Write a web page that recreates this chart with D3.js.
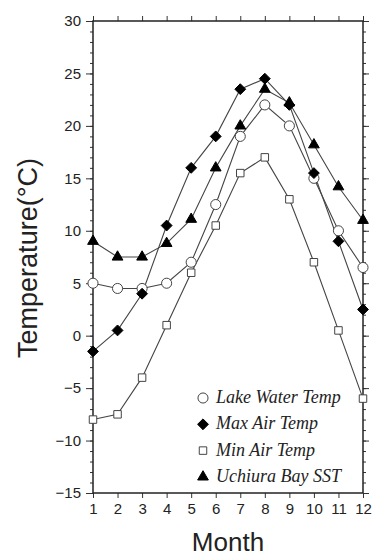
<!DOCTYPE html>
<html>
<head>
<meta charset="utf-8">
<script src="https://cdn.jsdelivr.net/npm/d3@7"></script>
<style>
  body { margin: 0; background: #fff; }
  svg { display: block; }
  .tick text { font-family: "Liberation Sans", Arial, sans-serif; font-size: 15px; fill: #222; }
</style>
</head>
<body>
<div id="chart"></div>
<script>
// months and series
const months = [1, 2, 3, 4, 5, 6, 7, 8, 9, 10, 11, 12];
const lakeWater = [5, 4.5, 4.5, 5, 7, 12.5, 19, 22, 20, 15, 10, 6.5];
const maxAir = [-1.5, 0.5, 4, 10.5, 16, 19, 23.5, 24.5, 22, 15.5, 9, 2.5];
const minAir = [-8, -7.5, -4, 1, 6, 10.5, 15.5, 17, 13, 7, 0.5, -6];
const uchiuraSST = [9, 7.5, 7.5, 8.8, 11.1, 16, 20, 23.5, 22.2, 18.2, 14.2, 11];
const yTicks = [-15, -10, -5, 0, 5, 10, 15, 20, 25, 30];

const series = [
    { name: "Lake Water Temp", values: lakeWater, shape: "circle" },
    { name: "Max Air Temp", values: maxAir, shape: "diamond" },
    { name: "Min Air Temp", values: minAir, shape: "square" },
    { name: "Uchiura Bay SST", values: uchiuraSST, shape: "triangle" }
];

const W = 373, H = 556;
const margin = { top: 21, right: 10, bottom: 63, left: 93 };
const width = W - margin.left - margin.right,
    height = H - margin.top - margin.bottom;

const svg = d3.select("#chart").append("svg")
    .attr("width", W).attr("height", H);
const g = svg.append("g")
    .attr("transform", `translate(${margin.left}, ${margin.top})`);

const x = d3.scaleLinear().domain([1, 12]).range([0, width]);
const y = d3.scaleLinear().domain([-15, 30]).range([height, 0]);
const minorY = d3.range(-15, 31, 1);

// minor ticks (left + right)
g.append("g").call(d3.axisLeft(y).tickValues(minorY).tickSize(3).tickFormat(""))
    .call(a => a.select(".domain").remove());
g.append("g").attr("transform", `translate(${width},0)`)
    .call(d3.axisRight(y).tickValues(minorY).tickSize(3).tickFormat(""))
    .call(a => a.select(".domain").remove());

// major ticks
g.append("g").call(d3.axisLeft(y).tickValues(yTicks).tickSize(7).tickPadding(5)
    .tickFormat(d => d < 0 ? "\u2212" + Math.abs(d) : d))
    .call(a => a.select(".domain").remove());
g.append("g").attr("transform", `translate(${width},0)`)
    .call(d3.axisRight(y).tickValues(yTicks).tickSize(6).tickFormat(""))
    .call(a => a.select(".domain").remove());
g.append("g").attr("transform", `translate(0,${height})`)
    .call(d3.axisBottom(x).tickValues(months).tickSize(5).tickPadding(5))
    .call(a => a.select(".domain").remove());
g.append("g")
    .call(d3.axisTop(x).tickValues(months).tickSize(5).tickFormat(""))
    .call(a => a.select(".domain").remove());

g.selectAll(".tick line").attr("stroke", "#333");

// frame
g.append("rect")
    .attr("width", width).attr("height", height)
    .attr("fill", "none").attr("stroke", "#222").attr("stroke-width", 1.5);

const line = d3.line()
    .x((d, i) => x(months[i]))
    .y(d => y(d));

const symbolFor = {
    circle: d3.symbol().type(d3.symbolCircle).size(80),
    diamond: d3.symbol().type(d3.symbolDiamond2).size(75),
    square: d3.symbol().type(d3.symbolSquare).size(56),
    triangle: d3.symbol().type(d3.symbolTriangle).size(50)
};
const filled = { circle: false, diamond: true, square: false, triangle: true };

// lines
series.forEach(s => {
    g.append("path")
        .datum(s.values)
        .attr("d", line)
        .attr("fill", "none")
        .attr("stroke", "#444")
        .attr("stroke-width", 1.1);
});

// markers
series.forEach(s => {
    g.selectAll(null)
        .data(s.values)
        .enter()
        .append("path")
        .attr("d", symbolFor[s.shape])
        .attr("transform", (d, i) => `translate(${x(months[i])},${y(d)})`)
        .attr("fill", filled[s.shape] ? "#000" : "#fff")
        .attr("stroke", filled[s.shape] ? "#000" : "#444")
        .attr("stroke-width", 1);
});

// legend
const legend = g.append("g").attr("transform", "translate(110, 377)");
series.forEach((s, i) => {
    const row = legend.append("g").attr("transform", `translate(0, ${i * 26.3})`);
    row.append("path")
        .attr("d", symbolFor[s.shape])
        .attr("fill", filled[s.shape] ? "#000" : "#fff")
        .attr("stroke", filled[s.shape] ? "#000" : "#444")
        .attr("stroke-width", 1);
    row.append("text")
        .attr("x", 13)
        .attr("y", 5)
        .style("font-family", "'Liberation Serif', 'Times New Roman', serif")
        .style("font-style", "italic")
        .style("font-size", "18px")
        .style("fill", "#222")
        .text(s.name);
});

// axis titles
svg.append("text")
    .attr("x", 228).attr("y", 551)
    .attr("text-anchor", "middle")
    .style("font-family", "'Liberation Sans', Arial, sans-serif")
    .style("font-size", "26px")
    .style("fill", "#222")
    .text("Month");

svg.append("text")
    .attr("transform", "translate(37, 258) rotate(-90)")
    .attr("text-anchor", "middle")
    .style("font-family", "'Liberation Sans', Arial, sans-serif")
    .style("font-size", "27px")
    .style("fill", "#222")
    .text("Temperature(°C)");
</script>
</body>
</html>
